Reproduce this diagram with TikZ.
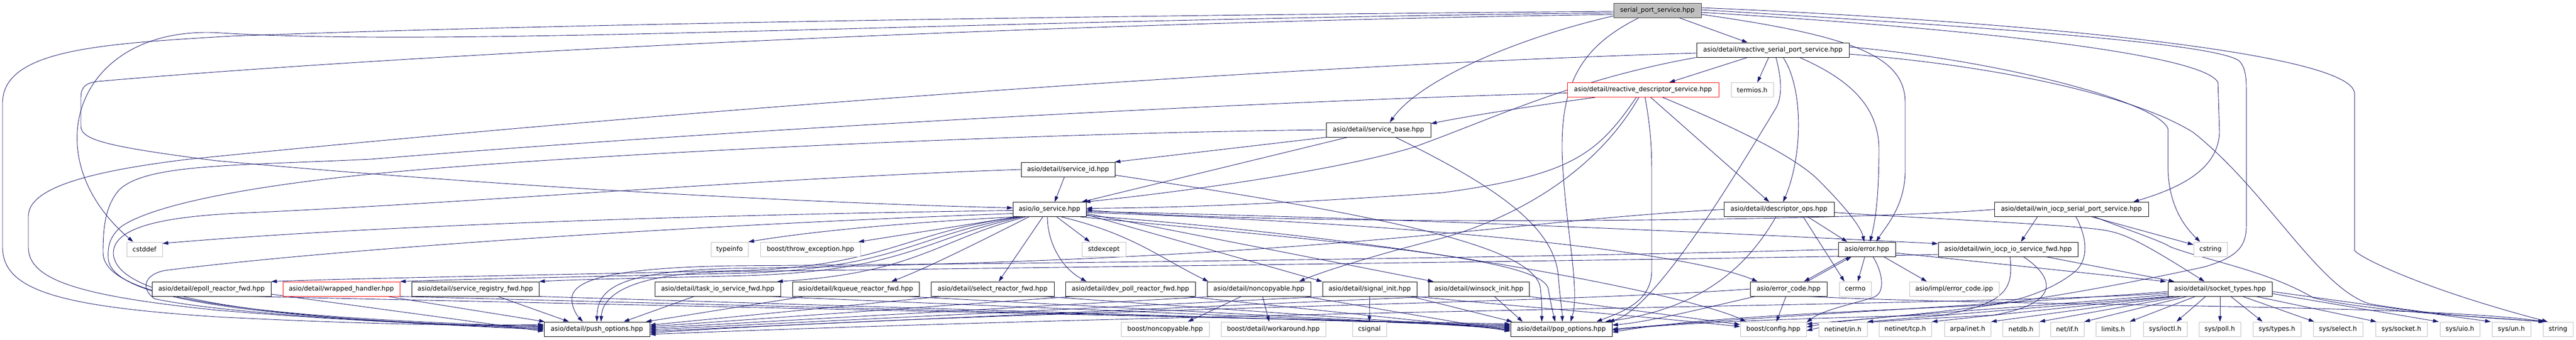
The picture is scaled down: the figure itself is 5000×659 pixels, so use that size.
\documentclass[tikz,border=0pt]{standalone}
\usepackage{fontspec}
\setmainfont{DejaVu Sans}
\usetikzlibrary{arrows.meta}
\definecolor{edgec}{HTML}{191970}
\definecolor{grayb}{HTML}{BFBFBF}
\definecolor{darkb}{HTML}{404040}
\pgfdeclarelayer{edgelayer}
\pgfsetlayers{edgelayer,main}
\begin{document}
\begin{tikzpicture}[x=1pt,y=-1pt,
  box/.style={draw=black, line width=1pt, fill=white, minimum height=28pt, inner sep=0pt, font=\fontsize{12.5pt}{15pt}\selectfont},
  sysbox/.style={box, draw=grayb},
  redbox/.style={box, draw=red},
  rootbox/.style={box, draw=darkb, fill=grayb},
  e/.style={draw=edgec, line width=0.9pt, -{Triangle[length=11pt,width=7pt]}}]
\useasboundingbox (0,0) rectangle (5000,659);
% row 0-5
\node[rootbox,minimum width=170pt] (sps) at (3217,20) {serial\_port\_service.hpp};
\node[box,minimum width=296pt] (rsps) at (3441,97) {asio/detail/reactive\_serial\_port\_service.hpp};
\node[redbox,minimum width=294pt] (rds) at (3189,174.5) {asio/detail/reactive\_descriptor\_service.hpp};
\node[sysbox,minimum width=82pt] (termios) at (3401,174.5) {termios.h};
\node[box,minimum width=203pt] (sbase) at (2675.5,252) {asio/detail/service\_base.hpp};
\node[box,minimum width=182pt] (sid) at (2073,329) {asio/detail/service\_id.hpp};
\node[box,minimum width=142pt] (ios) at (2037,406.5) {asio/io\_service.hpp};
\node[box,minimum width=214pt] (dops) at (3453,406.5) {asio/detail/descriptor\_ops.hpp};
\node[box,minimum width=299pt] (wisps) at (4020.5,406.5) {asio/detail/win\_iocp\_serial\_port\_service.hpp};
% row 6
\node[sysbox,minimum width=69pt] (cstddef) at (280.5,484) {cstddef};
\node[sysbox,minimum width=72pt] (typeinfo) at (1416,484) {typeinfo};
\node[sysbox,minimum width=194pt] (bte) at (1573,484) {boost/throw\_exception.hpp};
\node[sysbox,minimum width=85pt] (stdexcept) at (2142.5,484) {stdexcept};
\node[box,minimum width=111pt] (err) at (3623.5,484) {asio/error.hpp};
\node[box,minimum width=271pt] (wiisf) at (3897.5,484) {asio/detail/win\_iocp\_io\_service\_fwd.hpp};
\node[sysbox,minimum width=65pt] (cstring) at (4290.5,484) {cstring};
% row 7
\node[box,minimum width=231pt] (epoll) at (410.5,561) {asio/detail/epoll\_reactor\_fwd.hpp};
\node[redbox,minimum width=227pt] (wh) at (662.5,561) {asio/detail/wrapped\_handler.hpp};
\node[box,minimum width=247pt] (srf) at (922.5,561) {asio/detail/service\_registry\_fwd.hpp};
\node[box,minimum width=244pt] (tisf) at (1393,561) {asio/detail/task\_io\_service\_fwd.hpp};
\node[box,minimum width=246pt] (kq) at (1661,561) {asio/detail/kqueue\_reactor\_fwd.hpp};
\node[box,minimum width=239pt] (sel) at (1926.5,561) {asio/detail/select\_reactor\_fwd.hpp};
\node[box,minimum width=252pt] (dp) at (2194,561) {asio/detail/dev\_poll\_reactor\_fwd.hpp};
\node[box,minimum width=201pt] (nc) at (2443.5,561) {asio/detail/noncopyable.hpp};
\node[box,minimum width=183pt] (si) at (2658.5,561) {asio/detail/signal\_init.hpp};
\node[box,minimum width=195pt] (wi) at (2870.5,561) {asio/detail/winsock\_init.hpp};
\node[box,minimum width=149pt] (ec) at (3471.5,561) {asio/error\_code.hpp};
\node[sysbox,minimum width=62pt] (cerrno) at (3601,561) {cerrno};
\node[sysbox,minimum width=174pt] (eci) at (3793,561) {asio/impl/error\_code.ipp};
\node[box,minimum width=202pt] (st) at (4309,561) {asio/detail/socket\_types.hpp};
% row 8
\node[box,minimum width=205pt] (push) at (1158.5,639) {asio/detail/push\_options.hpp};
\node[sysbox,minimum width=171pt] (bnc) at (2261.5,639) {boost/noncopyable.hpp};
\node[sysbox,minimum width=203pt] (bdw) at (2471.5,639) {boost/detail/workaround.hpp};
\node[sysbox,minimum width=66pt] (csignal) at (2658,639) {csignal};
\node[box,minimum width=197pt] (pop) at (3030.5,639) {asio/detail/pop\_options.hpp};
\node[sysbox,minimum width=128pt] (bcfg) at (3442,639) {boost/config.hpp};
\node[sysbox,minimum width=94pt] (nin) at (3577,639) {netinet/in.h};
\node[sysbox,minimum width=102pt] (ntcp) at (3698,639) {netinet/tcp.h};
\node[sysbox,minimum width=90pt] (arpa) at (3819,639) {arpa/inet.h};
\node[sysbox,minimum width=71pt] (netdb) at (3922.5,639) {netdb.h};
\node[sysbox,minimum width=65pt] (netif) at (4012.5,639) {net/if.h};
\node[sysbox,minimum width=67pt] (limits) at (4101.5,639) {limits.h};
\node[sysbox,minimum width=85pt] (ioctl) at (4202.5,639) {sys/ioctl.h};
\node[sysbox,minimum width=81pt] (poll) at (4308.5,639) {sys/poll.h};
\node[sysbox,minimum width=93pt] (types) at (4419.5,639) {sys/types.h};
\node[sysbox,minimum width=96pt] (select) at (4538,639) {sys/select.h};
\node[sysbox,minimum width=100pt] (socket) at (4661,639) {sys/socket.h};
\node[sysbox,minimum width=77pt] (uio) at (4774.5,639) {sys/uio.h};
\node[sysbox,minimum width=75pt] (un) at (4874.5,639) {sys/un.h};
\node[sysbox,minimum width=58pt] (string) at (4965,639) {string};

\begin{pgfonlayer}{edgelayer}
% serial_port_service
\draw[e] ([yshift=-2pt]sps.west) .. controls (2400,28) and (1200,42) .. (450,70) .. controls (200,85) and (5,95) .. (5,200) -- (5,480) .. controls (5,565) and (120,595) .. (420,615) .. controls (750,632) and (950,632) .. ([yshift=9pt]push.west);
\draw[e] ([yshift=-5pt]sps.west) .. controls (1800,40) and (900,92) .. (430,64) .. controls (150,45) and (60,300) .. ([xshift=-22pt]cstddef.north);
\draw[e] ([yshift=-8pt]sps.west) .. controls (2000,45) and (800,105) .. (190,158) .. controls (163,161) and (157,172) .. (157,190) -- (157,245) .. controls (157,272) and (210,285) .. (420,312) .. controls (1000,365) and (1600,395) .. ([yshift=3pt]ios.west);
\draw[e] ([yshift=-11pt]sps.west) .. controls (2960,70) and (2760,150) .. ([xshift=22pt]sbase.north);
\draw[e] ([xshift=42pt]sps.south) -- ([xshift=-49pt]rsps.north);
\draw[e] ([xshift=-36pt]sps.south) .. controls (3070,90) and (3030,160) .. (3032,294) .. controls (3036,430) and (3068,560) .. ([xshift=18pt]pop.north);
\draw[e] ([yshift=-8pt]sps.east) .. controls (3600,70) and (3698,110) .. (3698,200) -- (3698,330) .. controls (3698,400) and (3660,440) .. ([xshift=18pt]err.north);
\draw[e] ([yshift=5pt]sps.east) .. controls (3900,40) and (4560,100) .. (4570,180) -- (4570,486) .. controls (4580,500) and (4700,560) .. ([xshift=-20pt]string.north);
\draw[e] ([yshift=1pt]sps.east) .. controls (3900,55) and (4300,85) .. (4346,118) .. controls (4358,130) and (4360,150) .. (4360,171) -- (4360,439) .. controls (4360,480) and (4340,500) .. (4279,518) .. controls (3900,600) and (3700,612) .. ([yshift=10pt]bcfg.east);
\draw[e] ([yshift=-4pt]sps.east) .. controls (3900,60) and (4280,110) .. (4305,160) -- (4308,257) .. controls (4305,330) and (4230,365) .. ([xshift=120pt]wisps.north);
% reactive_serial_port_service
\draw[e] ([yshift=-6pt]rsps.west) .. controls (2400,130) and (1200,225) .. (367,309) .. controls (150,335) and (55,370) .. (55,420) -- (55,480) .. controls (55,545) and (160,575) .. (420,602) .. controls (720,627) and (950,634) .. ([yshift=7pt]push.west);
\draw[e] (rsps.south west) .. controls (3050,155) and (2900,230) .. (2743,286) .. controls (2600,330) and (2300,372) .. ([xshift=-3pt]ios.north east);
\draw[e] ([xshift=-49pt]rsps.south) -- ([xshift=51pt]rds.north);
\draw[e] ([xshift=-8pt]rsps.south) -- ([xshift=10pt]termios.north);
\draw[e] ([xshift=20pt]rsps.south) .. controls (3500,170) and (3500,300) .. ([xshift=8pt]dops.north);
\draw[e] ([xshift=52pt]rsps.south) .. controls (3580,150) and (3647,200) .. (3647,290) .. controls (3647,380) and (3640,430) .. ([xshift=6pt]err.north);
\draw[e] ([xshift=6pt]rsps.south) .. controls (3460,160) and (3458,190) .. (3447,210) .. controls (3350,370) and (3210,600) .. ([xshift=92pt]pop.north);
\draw[e] ([yshift=6pt]rsps.east) .. controls (3900,120) and (4190,200) .. (4208,250) -- (4208,329) .. controls (4210,400) and (4240,440) .. ([xshift=-20pt]cstring.north);
\draw[e] ([yshift=-8pt]rsps.east) .. controls (3900,130) and (4150,190) .. (4257,257) .. controls (4400,370) and (4500,560) .. (4600,590) .. controls (4750,615) and (4850,618) .. ([xshift=-24pt]string.north);
% reactive_descriptor_service
\draw[e] ([yshift=-6pt]rds.west) .. controls (2500,195) and (1500,245) .. (720,309) .. controls (450,322) and (280,318) .. (230,370) .. controls (205,400) and (200,440) .. (200,490) .. controls (200,575) and (450,615) .. ([yshift=5pt]push.west);
\draw[e] ([xshift=-93pt]rds.south) .. controls (2980,205) and (2850,225) .. ([yshift=12pt]sbase.east);
\draw[e] ([xshift=-13pt]rds.south) .. controls (3100,300) and (3050,340) .. (2800,374) .. controls (2500,395) and (2300,403) .. ([yshift=2pt]ios.east);
\draw[e] ([xshift=-8pt]rds.south) .. controls (3100,330) and (2950,420) .. (2800,462) .. controls (2650,500) and (2560,530) .. ([xshift=78pt]nc.north);
\draw[e] ([xshift=4pt]rds.south) .. controls (3206,260) and (3206,300) .. (3206,350) -- (3206,525) .. controls (3206,585) and (3150,605) .. ([xshift=68pt]pop.north);
\draw[e] ([xshift=15pt]rds.south) -- ([xshift=-19pt]dops.north);
\draw[e] ([xshift=38pt]rds.south) .. controls (3350,240) and (3480,300) .. (3530,350) .. controls (3580,400) and (3612,440) .. ([xshift=-5pt]err.north);
% service_base
\draw[e] (sbase.west) .. controls (2000,258) and (1100,300) .. (720,338) .. controls (500,360) and (300,395) .. (235,440) .. controls (212,460) and (209,480) .. (210,500) .. controls (212,580) and (480,618) .. ([yshift=3pt]push.west);
\draw[e] ([xshift=-101pt]sbase.south) -- ([xshift=-1pt]sid.north east);
\draw[e] ([xshift=-60pt]sbase.south) -- ([xshift=-9pt]ios.north east);
\draw[e] ([xshift=33pt]sbase.south) .. controls (2900,360) and (3020,440) .. (3025,540) .. controls (3028,580) and (3032,600) .. ([xshift=2pt]pop.north);
% service_id
\draw[e] (sid.west) .. controls (1500,345) and (900,395) .. (459,414) .. controls (300,422) and (222,445) .. (220,490) .. controls (220,580) and (500,618) .. ([yshift=1pt]push.west);
\draw[e] ([xshift=-7pt]sid.south) -- ([xshift=10pt]ios.north);
\draw[e] ([yshift=-11pt]sid.east) .. controls (2700,420) and (2980,480) .. (2990,560) .. controls (2993,590) and (2993,605) .. ([xshift=-38pt]pop.north);
% io_service
\draw[e] ([yshift=-8pt]ios.west) .. controls (1400,435) and (700,478) .. (320,525) .. controls (280,533) and (272,560) .. (300,580) .. controls (450,612) and (850,630) .. ([yshift=-1pt]push.west);
\draw[e] ([yshift=-2pt]ios.west) .. controls (1300,418) and (700,440) .. ([yshift=-3pt]cstddef.north east);
\draw[e] ([xshift=-68pt]ios.south) .. controls (1800,430) and (1600,445) .. (typeinfo.north east);
\draw[e] ([xshift=-64pt]ios.south) -- ([xshift=93pt]bte.north);
\draw[e] ([xshift=14pt]ios.south) -- ([xshift=-27pt]stdexcept.north);
\draw[e] ([xshift=-60pt]ios.south) .. controls (1760,450) and (1720,515) .. (1450,525) .. controls (1000,535) and (700,540) .. (epoll.north east);
\draw[e] ([xshift=-56pt]ios.south) .. controls (1780,455) and (1740,520) .. (1450,530) .. controls (1100,538) and (900,542) .. (wh.north east);
\draw[e] ([xshift=-52pt]ios.south) .. controls (1800,460) and (1760,525) .. (1450,535) .. controls (1250,540) and (1100,543) .. (srf.north east);
\draw[e] ([xshift=-46pt]ios.south) .. controls (1820,465) and (1780,530) .. ([xshift=-7pt]tisf.north east);
\draw[e] ([xshift=-40pt]ios.south) .. controls (1900,470) and (1800,520) .. ([xshift=69pt]kq.north);
\draw[e] ([xshift=-13pt]ios.south) -- ([xshift=12pt]sel.north);
\draw[e] ([xshift=-4pt]ios.south) .. controls (2033,470) and (2060,520) .. ([xshift=-85pt]dp.north);
\draw[e] ([xshift=23pt]ios.south) .. controls (2200,455) and (2250,500) .. ([xshift=3pt]nc.north west);
\draw[e] ([yshift=-10pt]ios.east) -- (si.north west);
\draw[e] ([yshift=-8pt]ios.east) -- ([xshift=10pt]wi.north west);
\draw[e] ([yshift=-4pt]ios.east) .. controls (2800,425) and (3500,460) .. ([yshift=11pt]wiisf.west);
\draw[e] ([yshift=-6pt]ios.east) .. controls (2900,440) and (3300,500) .. ([xshift=-60pt]ec.north);
\draw[e] ([yshift=-12pt]ios.east) .. controls (2800,470) and (3300,580) .. ([xshift=-53pt]bcfg.north);
\draw[e] ([xshift=60pt]ios.south) .. controls (2600,470) and (2990,500) .. (3005,560) .. controls (3010,590) and (3015,610) .. ([xshift=-12pt]pop.north);
% error.hpp
\draw[e] (err.west) .. controls (3000,500) and (2000,512) .. (1420,516) .. controls (1180,520) and (1110,545) .. (1110,580) .. controls (1110,600) and (1122,615) .. ([xshift=-27pt]push.north);
\draw[e] ([xshift=12pt]err.south) .. controls (3655,530) and (3660,570) .. (3636,577) .. controls (3600,590) and (3540,600) .. ([yshift=13pt]bcfg.east);
\draw[e] ([xshift=-4pt]err.south) -- ([xshift=5pt]cerrno.north);
\draw[e] ([xshift=33pt]err.south) -- ([xshift=-53pt]eci.north);
\draw[e] ([xshift=-36pt]err.south) -- ([xshift=30pt]ec.north);
\draw[e] ([yshift=-7pt]err.east) -- ([xshift=-3pt]st.north west);
% error_code.hpp
\draw[e] ([xshift=36pt]ec.north) -- ([xshift=-30pt]err.south);
\draw[e] ([xshift=-5pt]ec.south) -- ([xshift=6pt]bcfg.north);
\draw[e] ([xshift=-65pt]ec.south) .. controls (3300,600) and (3200,625) .. ([yshift=8pt]pop.east);
\draw[e] (ec.west) .. controls (3000,590) and (2000,600) .. ([yshift=-7pt]push.east);
\draw[e] ([xshift=40pt]ec.south) .. controls (3900,595) and (4700,590) .. ([xshift=-26pt]string.north);
% descriptor_ops
\draw[e] (dops.west) .. controls (2900,430) and (2600,505) .. (1420,521) .. controls (1200,527) and (1160,560) .. (push.north);
\draw[e] ([xshift=-6pt]dops.south) .. controls (3390,520) and (3300,600) .. ([xshift=85pt]pop.north);
\draw[e] ([xshift=47pt]dops.south) -- ([xshift=-21pt]cerrno.north);
\draw[e] ([xshift=56pt]dops.south) -- ([xshift=-38pt]err.north);
\draw[e] ([yshift=-6pt]dops.east) .. controls (3750,425) and (4000,435) .. (4079,446) .. controls (4120,452) and (4150,465) .. ([xshift=-30pt]st.north);
% win_iocp_serial_port_service
\draw[e] (wisps.west) .. controls (3600,430) and (2500,440) .. ([yshift=-1pt]ios.east);
\draw[e] ([xshift=-66pt]wisps.south) -- ([xshift=25pt]wiisf.north);
\draw[e] ([xshift=40pt]wisps.south) -- ([yshift=9pt]cstring.west);
\draw[e] ([xshift=45pt]wisps.south) .. controls (4140,450) and (4200,470) .. (4212,479) .. controls (4280,505) and (4400,525) .. (4490,578) .. controls (4600,605) and (4820,615) .. ([xshift=-27pt]string.north);
\draw[e] ([xshift=9pt]wisps.south) .. controls (4050,460) and (4055,500) .. (4030,525) .. controls (3990,560) and (3920,585) .. (3860,592) .. controls (3600,605) and (3300,615) .. ([yshift=-6pt]pop.east);
% win_iocp_io_service_fwd
\draw[e] ([yshift=-10pt]wiisf.west) .. controls (3400,502) and (2000,520) .. (1420,527) .. controls (1230,530) and (1170,570) .. ([xshift=8pt]push.north);
\draw[e] ([xshift=4pt]wiisf.south) .. controls (3908,560) and (3895,588) .. (3775,611) .. controls (3600,616) and (3300,622) .. ([yshift=-2pt]pop.east);
\draw[e] ([xshift=74pt]wiisf.south) -- ([xshift=13pt]st.north west);
\draw[e] ([xshift=30pt]wiisf.south) .. controls (3990,540) and (4000,590) .. (3867,612) .. controls (3700,620) and (3560,628) .. ([yshift=-3pt]bcfg.east);
% socket_types
\draw[e] ([yshift=-8pt]st.west) .. controls (3900,592) and (2500,600) .. ([yshift=-10pt]push.east);
\draw[e] ([yshift=-5pt]st.west) .. controls (3900,590) and (3400,615) .. (pop.east);
\draw[e] ([yshift=-11pt]st.west) .. controls (3900,600) and (3600,615) .. ([yshift=4pt]bcfg.east);
\draw[e] ([xshift=-99pt]st.south) -- (nin.north east);
\draw[e] ([xshift=-94pt]st.south) -- (ntcp.north east);
\draw[e] ([xshift=-86pt]st.south) -- (arpa.north east);
\draw[e] ([xshift=-76pt]st.south) -- (netdb.north east);
\draw[e] ([xshift=-64pt]st.south) -- (netif.north east);
\draw[e] ([xshift=-48pt]st.south) -- ([xshift=-2pt]limits.north east);
\draw[e] ([xshift=-28pt]st.south) -- ([xshift=22pt]ioctl.north);
\draw[e] (st.south) -- ([xshift=0.5pt]poll.north);
\draw[e] ([xshift=21pt]st.south) -- ([xshift=-28pt]types.north);
\draw[e] ([xshift=44pt]st.south) -- ([xshift=-46pt]select.north);
\draw[e] ([xshift=70pt]st.south) -- ([xshift=2pt]socket.north west);
\draw[e] ([yshift=-9pt]st.east) -- ([xshift=-2pt]uio.north west);
\draw[e] ([yshift=-5pt]st.east) -- ([xshift=-2pt]un.north west);
% noncopyable
\draw[e] ([xshift=-34pt]nc.south) -- ([xshift=44pt]bnc.north);
\draw[e] ([xshift=7pt]nc.south) -- ([xshift=-8pt]bdw.north);
\draw[e] ([xshift=-90pt]nc.south) -- ([yshift=2pt]push.east);
\draw[e] ([xshift=90pt]nc.south) -- ([yshift=-4pt]pop.west);
% signal_init
\draw[e] (si.south) -- (csignal.north);
\draw[e] ([xshift=-85pt]si.south) -- ([yshift=-1pt]push.east);
\draw[e] ([xshift=80pt]si.south) -- ([xshift=4pt]pop.north west);
\draw[e] ([xshift=88pt]si.south) .. controls (2950,595) and (3200,615) .. ([yshift=5pt]bcfg.west);
% winsock_init
\draw[e] ([xshift=-90pt]wi.south) -- ([yshift=-4pt]push.east);
\draw[e] ([xshift=30pt]wi.south) -- ([xshift=-75pt]pop.north);
\draw[e] (wi.south east) -- ([yshift=9pt]bcfg.west);
% forward headers
\draw[e] ([yshift=-10pt]epoll.east) -- ([yshift=-4pt]push.west);
\draw[e] ([xshift=80pt]epoll.south) -- ([yshift=10pt]pop.west);
\draw[e] ([xshift=90pt]wh.south) -- ([xshift=2pt]push.north west);
\draw[e] (wh.south east) -- ([yshift=8pt]pop.west);
\draw[e] ([xshift=44pt]srf.south) -- ([xshift=-54pt]push.north);
\draw[e] (srf.south east) -- ([yshift=6pt]pop.west);
\draw[e] ([xshift=-46pt]tisf.south) -- ([xshift=52pt]push.north);
\draw[e] ([xshift=100pt]tisf.south) -- ([yshift=4pt]pop.west);
\draw[e] ([xshift=-100pt]kq.south) -- ([xshift=-8pt]push.north east);
\draw[e] ([xshift=100pt]kq.south) -- ([yshift=2pt]pop.west);
\draw[e] ([xshift=-100pt]sel.south) -- ([yshift=8pt]push.east);
\draw[e] ([xshift=100pt]sel.south) -- (pop.west);
\draw[e] ([xshift=-110pt]dp.south) -- ([yshift=5pt]push.east);
\draw[e] ([xshift=110pt]dp.south) -- ([yshift=-2pt]pop.west);
\end{pgfonlayer}
\end{tikzpicture}
\end{document}
